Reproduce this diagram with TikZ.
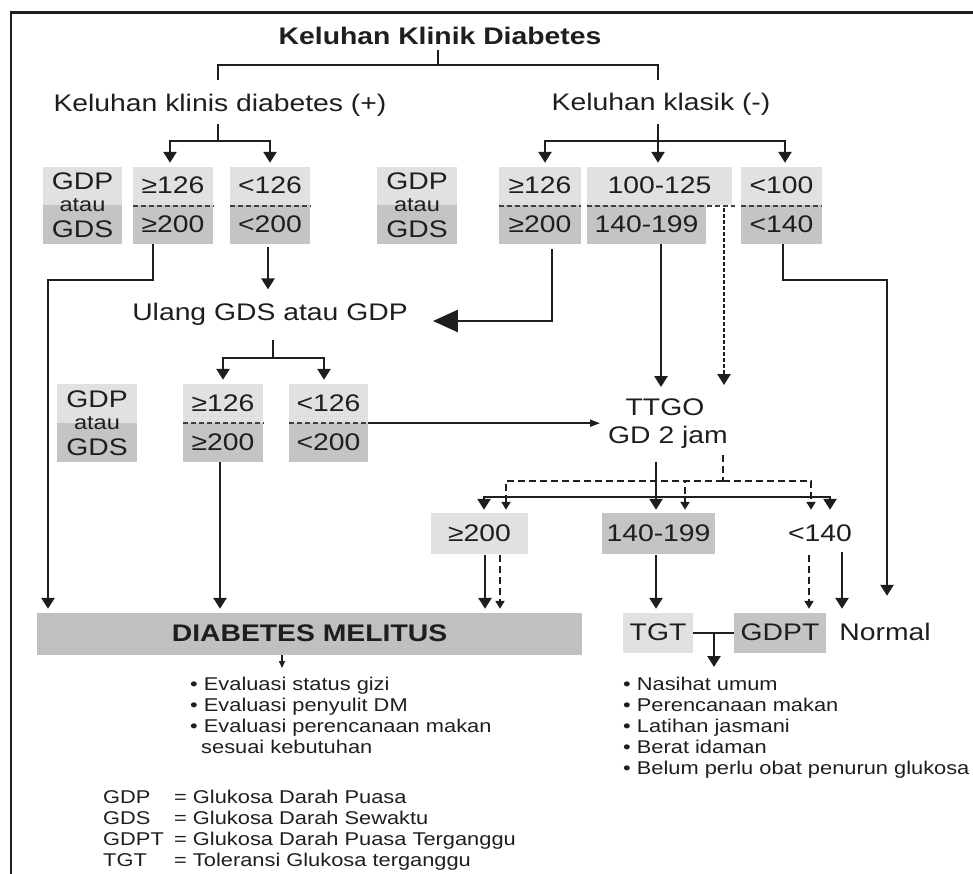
\documentclass[tikz,border=0pt]{standalone}
\usepackage{fontspec}
\setmainfont{Liberation Sans}[FakeStretch=1.18]
\usetikzlibrary{arrows.meta}
\definecolor{boxlight}{HTML}{E1E1E1}
\definecolor{boxdark}{HTML}{C4C4C4}
\definecolor{dmgray}{HTML}{C0C0C0}
\definecolor{ink}{HTML}{1E1E1E}
\newcommand\fsbig{\fontsize{24pt}{28pt}\selectfont}
\newcommand\fsatau{\fontsize{20pt}{24pt}\selectfont}
\newcommand\fssm{\fontsize{18.5pt}{21pt}\selectfont}
\begin{document}
\begin{tikzpicture}[x=1pt,y=-1pt,
  tx/.style={inner sep=0pt, text=ink, font=\fsbig},
  half/.style={tx, minimum height=38.5pt, text height=15pt, text depth=0pt},
  ltb/.style={half, fill=boxlight},
  dkb/.style={half, fill=boxdark},
  rowthree/.style={tx, minimum height=41pt, text height=15pt, text depth=0pt},
  gbox/.style={inner sep=0pt, minimum height=77pt, fill=boxlight,
    path picture={\fill[boxdark] (path picture bounding box.west) rectangle (path picture bounding box.south east);}},
  con/.style={draw=ink, line width=2.6pt},
  arr/.style={con, -{Triangle[width=13pt,length=11pt]}},
  dashc/.style={draw=ink, line width=2pt, dash pattern=on 7pt off 4pt},
  darr/.style={dashc, -{Triangle[width=9pt,length=8pt]}},
  dotc/.style={draw=ink, line width=2.4pt, dash pattern=on 3.5pt off 2.5pt},
  sepline/.style={draw=ink!85, line width=1.8pt, dash pattern=on 5pt off 3pt},
  bul/.style={inner sep=0pt, text=ink, font=\fssm, anchor=base west},
  gtxt/.style={tx, anchor=base},
  atxt/.style={tx, anchor=base, font=\fsatau}
]
\useasboundingbox (0,0) rectangle (973,874);
% frame
\draw[draw=ink, line width=2.4pt] (973,12.5) -- (11,12.5) -- (11,874);

% titles
\node[tx, font=\fsbig\bfseries, anchor=base] (title) at (440,45) {Keluhan Klinik Diabetes};
\node[tx, anchor=base] (kp) at (220,112) {Keluhan klinis diabetes (+)};
\node[tx, anchor=base] (km) at (661,111) {Keluhan klasik (-)};

% row 1
\node[gbox, minimum width=79pt] (g1) at (82.5,205.5) {};
\node[gtxt] (g1p) at (82.5,190) {GDP};
\node[atxt] (g1a) at (82.5,212) {atau};
\node[gtxt] (g1s) at (82.5,238) {GDS};

\node[ltb, minimum width=80pt] (a1t) at (173,186.25) {≥126};
\node[dkb, minimum width=80pt] (a1b) at (173,224.75) {≥200};
\node[ltb, minimum width=80pt] (b1t) at (270,186.25) {<126};
\node[dkb, minimum width=80pt] (b1b) at (270,224.75) {<200};

\node[gbox, minimum width=80pt] (g2) at (417,205.5) {};
\node[gtxt] (g2p) at (417,190) {GDP};
\node[atxt] (g2a) at (417,212) {atau};
\node[gtxt] (g2s) at (417,238) {GDS};

\node[ltb, minimum width=82pt] (c1t) at (540,186.25) {≥126};
\node[dkb, minimum width=82pt] (c1b) at (540,224.75) {≥200};
\node[ltb, minimum width=145pt] (d1t) at (659.5,186.25) {100-125};
\node[dkb, minimum width=119pt] (d1b) at (646.5,224.75) {140-199};
\node[ltb, minimum width=81pt] (e1t) at (781.5,186.25) {<100};
\node[dkb, minimum width=81pt] (e1b) at (781.5,224.75) {<140};

\draw[sepline] (a1t.south west) -- (a1t.south east);
\draw[sepline] (b1t.south west) -- (b1t.south east);
\draw[sepline] (c1t.south west) -- (c1t.south east);
\draw[sepline] (d1t.south west) -- ([xshift=3pt]d1t.south east);
\draw[sepline] (e1t.south west) -- (e1t.south east);

% middle
\node[tx, anchor=base] (ulang) at (270,320) {Ulang GDS atau GDP};

% row 2
\node[gbox, minimum width=80pt, minimum height=78pt] (g3) at (97,423) {};
\node[gtxt] (g3p) at (97,407) {GDP};
\node[atxt] (g3a) at (97,429) {atau};
\node[gtxt] (g3s) at (97,455) {GDS};

\node[ltb, minimum width=80pt, minimum height=39pt] (a2t) at (223,403.5) {≥126};
\node[dkb, minimum width=80pt, minimum height=39pt] (a2b) at (223,442.5) {≥200};
\node[ltb, minimum width=79pt, minimum height=39pt] (b2t) at (328.5,403.5) {<126};
\node[dkb, minimum width=79pt, minimum height=39pt] (b2b) at (328.5,442.5) {<200};
\draw[sepline] (a2t.south west) -- (a2t.south east);
\draw[sepline] (b2t.south west) -- (b2t.south east);

\node[tx, anchor=base] (ttgo1) at (665,415) {TTGO};
\node[tx, anchor=base] (ttgo2) at (668,443) {GD 2 jam};

% row 3
\node[rowthree, fill=boxlight, minimum width=97pt] (r3a) at (479.5,533.5) {≥200};
\node[rowthree, fill=boxdark, minimum width=113pt] (r3b) at (658.5,533.5) {140-199};
\node[rowthree, minimum width=60pt] (r3c) at (820,533.5) {<140};

% row 4
\node[rowthree, fill=dmgray, minimum width=545pt, minimum height=42pt, font=\fsbig\bfseries] (dm) at (309.5,634) {DIABETES MELITUS};
\node[rowthree, fill=boxlight, minimum width=70pt, minimum height=40pt] (tgt) at (658,633) {TGT};
\node[rowthree, fill=boxdark, minimum width=92pt, minimum height=40pt] (gdpt) at (780,633) {GDPT};
\node[rowthree, minimum width=88pt, minimum height=40pt] (normal) at (885,633) {Normal};

% bullets
\node[bul] (ev1) at (190,690) {• Evaluasi status gizi};
\node[bul] (ev2) at (190,711) {• Evaluasi penyulit DM};
\node[bul] (ev3) at (190,732) {• Evaluasi perencanaan makan};
\node[bul] (ev4) at (201,753) {sesuai kebutuhan};

\node[bul] (ns1) at (623,690) {• Nasihat umum};
\node[bul] (ns2) at (623,711) {• Perencanaan makan};
\node[bul] (ns3) at (623,732) {• Latihan jasmani};
\node[bul] (ns4) at (623,753) {• Berat idaman};
\node[bul] (ns5) at (623,774) {• Belum perlu obat penurun glukosa};

% legend
\node[bul] (lg1a) at (103,803) {GDP};
\node[bul] (lg1b) at (174,803) {= Glukosa Darah Puasa};
\node[bul] (lg2a) at (103,824) {GDS};
\node[bul] (lg2b) at (174,824) {= Glukosa Darah Sewaktu};
\node[bul] (lg3a) at (103,845) {GDPT};
\node[bul] (lg3b) at (174,845) {= Glukosa Darah Puasa Terganggu};
\node[bul] (lg4a) at (103,866) {TGT};
\node[bul] (lg4b) at (174,866) {= Toleransi Glukosa terganggu};

% ---------- connectors ----------
\coordinate (tA) at (438,50);
\coordinate (tB) at (438,65);
\coordinate (kpT) at (218,80);
\coordinate (kmT) at (658,80);
\draw[con] (tA) -- (tB);
\draw[con] (kpT) |- (tB) -| (kmT);

\coordinate (kpS) at (218,124);
\coordinate (kpJ) at (218,141);
\draw[con] (kpS) -- (kpJ);
\draw[arr, shorten >=4pt] (kpJ) -| (a1t.north -| 170,0);
\draw[arr, shorten >=4pt] (kpJ) -| (b1t.north -| 270,0);

\coordinate (kmS) at (658,124);
\coordinate (kmJ) at (658,141);
\draw[con] (kmS) -- (kmJ);
\draw[arr, shorten >=4pt] (kmJ) -| (c1t.north -| 545,0);
\draw[arr, shorten >=4pt] (kmJ) -- (d1t.north -| 658,0);
\draw[arr, shorten >=4pt] (kmJ) -| (e1t.north -| 785,0);

\coordinate (lb1) at (48,280);
\draw[arr, shorten >=4pt] (a1b.south -| 153,0) |- (lb1) -- (dm.north -| 48,0);

\draw[arr, shorten <=3pt, shorten >=13pt] (b1b.south -| 268,0) -- (ulang.north -| 268,0);

\draw[con, -{Triangle[width=22pt,length=25pt]}, shorten <=5pt, shorten >=25pt]
  (c1b.south -| 552,0) |- (ulang.east |- 0,321);

\draw[arr, shorten >=11pt] (d1b.south -| 661,0) -- (ttgo1.north -| 661,0);
\draw[dotc, -{Triangle[width=13pt,length=11pt]}, shorten <=2.5pt, shorten >=13pt]
  (d1t.south -| 724,0) -- (ttgo1.north -| 724,0);

\coordinate (rb1) at (887,280);
\draw[arr, shorten >=17pt] (e1b.south -| 783,0) |- (rb1) -- (normal.north -| 887,0);

\coordinate (ulS) at (273,340);
\coordinate (ulJ) at (273,358);
\draw[con] (ulS) -- (ulJ);
\draw[arr, shorten >=4pt] (ulJ) -| (a2t.north -| 223,0);
\draw[arr, shorten >=4pt] (ulJ) -| (b2t.north -| 324,0);

\draw[arr, shorten >=4pt] (a2b.south -| 220,0) -- (dm.north -| 220,0);

\draw[draw=ink, line width=1.6pt, -{Triangle[width=7pt,length=10pt]}, shorten >=8pt]
  (b2t.south east) -- (ttgo2.west |- b2t.south east);

\coordinate (tS) at (656,462);
\coordinate (tJ) at (656,497);
\draw[con] (tS) -- (tJ);
\draw[arr, shorten >=3pt] (tJ) -| (r3a.north -| 484,0);
\draw[arr, shorten >=3pt] (tJ) -- (r3b.north -| 656,0);
\draw[arr, shorten >=3pt] (tJ) -| (r3c.north -| 830,0);

\coordinate (dS) at (723,455);
\coordinate (dJ) at (723,481);
\draw[dashc] (dS) -- (dJ);
\draw[darr, shorten >=3pt] (dJ) -| (r3a.north -| 506,0);
\draw[darr, shorten >=3pt] (dJ) -| (r3b.north -| 685,0);
\draw[darr, shorten >=3pt] (dJ) -| (r3c.north -| 811,0);

\draw[arr, shorten <=1pt, shorten >=4pt] (r3a.south -| 485,0) -- (dm.north -| 485,0);
\draw[darr, shorten <=1pt, shorten >=4pt] (r3a.south -| 500,0) -- (dm.north -| 500,0);
\draw[arr, shorten <=1pt, shorten >=4pt] (r3b.south -| 656,0) -- (tgt.north -| 656,0);
\draw[darr, shorten <=1pt, shorten >=4pt] (r3c.south -| 809,0) -- (gdpt.north -| 809,0);
\draw[arr, shorten <=-2pt, shorten >=4pt] (r3c.south -| 842,0) -- (gdpt.north -| 842,0);

\draw[con] (tgt.east) -- (gdpt.west);
\coordinate (tgB) at (714,667);
\draw[arr] (tgt.east -| 714,0) -- (tgB);

\coordinate (dmB) at (282,668);
\draw[draw=ink, line width=1.5pt, -{Triangle[width=6pt,length=7pt]}] (dm.south -| 282,0) -- (dmB);
\end{tikzpicture}
\end{document}
